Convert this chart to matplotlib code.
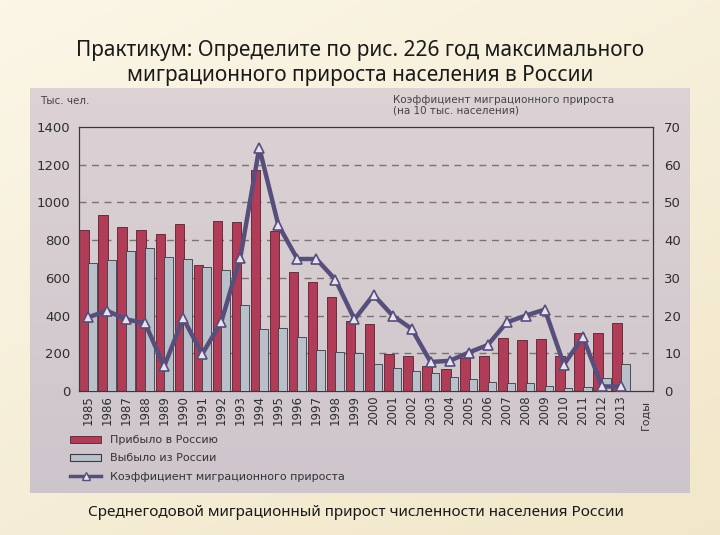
# Слайд: миграция населения России 1985-2013 (столбцы + коэффициент)
import matplotlib.pyplot as plt
import numpy as np
from matplotlib.patches import Rectangle, Patch
from matplotlib.lines import Line2D

years = [str(y) for y in range(1985, 2014)]
# тыс. чел.
arrived = [855, 935, 870, 855, 830, 885, 670, 900, 895, 1170,
           850, 630, 580, 500, 370, 355, 195, 185, 130, 115,
           175, 185, 280, 270, 275, 185, 310, 310, 360]
left = [680, 695, 740, 760, 710, 700, 655, 640, 455, 330,
        335, 285, 220, 205, 200, 145, 120, 105, 95, 75,
        65, 50, 45, 40, 28, 14, 20, 70, 145]
# на 10 тыс. населения
coef = [19.5, 21.3, 19.0, 18.0, 6.5, 19.3, 9.8, 18.3, 35.3, 64.5,
        44.0, 35.0, 35.0, 29.5, 19.0, 25.5, 20.0, 16.5, 7.7, 8.0,
        10.2, 12.2, 18.2, 20.0, 21.6, 7.0, 14.3, 1.2, 1.2]

title = 'Практикум: Определите по рис. 226 год максимального\nмиграционного прироста населения в России'
caption = 'Среднегодовой миграционный прирост численности населения России'

W, H = 720, 535
fig = plt.figure(figsize=(7.2, 5.35), dpi=100)

# фон слайда (лёгкий градиент)
bg = fig.add_axes([0, 0, 1, 1], zorder=-10)
gx = np.linspace(0, 1, 200)
gy = np.linspace(0, 1, 150)
gxx, gyy = np.meshgrid(gx, gy)
t = (gxx * 0.4 + gyy * 0.6)
c1 = np.array([0.985, 0.965, 0.905])
c2 = np.array([0.945, 0.905, 0.790])
img = c1[None, None, :] * (1 - t[..., None]) + c2[None, None, :] * t[..., None]
bg.imshow(img, aspect='auto', extent=[0, 1, 0, 1])
bg.axis('off')

# "фотография" рисунка из учебника (внизу чуть темнее)
ph = fig.add_axes([30 / W, 1 - 493 / H, 660 / W, 405 / H], zorder=-5)
p1 = np.array([0.865, 0.825, 0.835])
p2 = np.array([0.805, 0.775, 0.800])
pt = np.linspace(0, 1, 100)[:, None, None]
ph.imshow(p1 * (1 - pt) + p2 * pt, aspect='auto', extent=[0, 1, 0, 1])
ph.axis('off')

fig.text(0.5, 1 - 63 / H, title, ha='center', va='center', fontsize=15,
         family='Noto Sans', color='#1a1a1a', linespacing=1.25)
fig.text(356 / W, 1 - 513 / H, caption, ha='center', va='center', fontsize=11,
         family='Noto Sans', color='#1a1a1a')

ax = fig.add_axes([79 / W, 1 - 391 / H, 574 / W, 264 / H])
ax.set_facecolor('none')
x = np.arange(len(years))
red = '#b03c58'
grey = '#b9c0c9'
ax.bar(x + 0.02, arrived, width=0.5, align='edge', color=red,
       edgecolor='#5a2030', linewidth=0.6, zorder=2)
ax.bar(x + 0.47, left, width=0.45, align='edge', color=grey,
       edgecolor='#3a3a44', linewidth=0.6, zorder=3)

ax.set_xlim(0, 30.15)
ax.set_ylim(0, 1400)
ax.set_yticks(range(0, 1401, 200))
ax.set_xticks(x + 0.47)
ax.set_xticklabels(years, rotation=90, fontsize=8.5, color='#2e2e2e')
ax.tick_params(axis='x', length=0, pad=3)
ax.tick_params(axis='y', length=0, pad=6, labelsize=9.5, labelcolor='#2e2e2e')
for v in range(200, 1400, 200):
    ax.axhline(v, color='#7a7276', linestyle=(0, (5, 4)), linewidth=1.0, zorder=1)
for s in ax.spines.values():
    s.set_color('#3a3a3a')
    s.set_linewidth(0.9)

ax2 = ax.twinx()
ax2.set_ylim(0, 70)
ax2.set_yticks(range(0, 71, 10))
ax2.tick_params(axis='y', length=0, pad=8, labelsize=9.5, labelcolor='#2e2e2e')
ax2.plot(x + 0.47, coef, color='#574e7c', linewidth=3.2, marker='^',
         markersize=6.5, markerfacecolor='#e6e2ee', markeredgecolor='#574e7c',
         markeredgewidth=1.2, zorder=5)
for s in ax2.spines.values():
    s.set_visible(False)

fig.text(40 / W, 1 - 101 / H, 'Тыс. чел.', ha='left', va='center',
         fontsize=7.5, color='#444444')
fig.text(393 / W, 1 - 105 / H,
         'Коэффициент миграционного прироста\n(на 10 тыс. населения)',
         ha='left', va='center', fontsize=7.5, color='#444444', linespacing=1.1)
fig.text(646 / W, 1 - 400 / H, 'Годы', ha='center', va='top', rotation=90,
         fontsize=8, color='#333333')

handles = [Patch(facecolor=red, edgecolor='#5a2030', linewidth=0.6),
           Patch(facecolor=grey, edgecolor='#3a3a44', linewidth=0.8),
           Line2D([], [], color='#574e7c', linewidth=2.5, marker='^',
                  markersize=6, markerfacecolor='#e6e2ee',
                  markeredgecolor='#574e7c')]
labels = ['Прибыло в Россию', 'Выбыло из России', 'Коэффициент миграционного прироста']
fig.legend(handles, labels, loc='upper left', bbox_to_anchor=(60 / W, 1 - 425 / H),
           frameon=False, fontsize=8, handlelength=2.8, handleheight=0.6,
           labelspacing=0.75, handletextpad=0.8, labelcolor='#333333')

fig.savefig('out.png', dpi=100, facecolor=fig.get_facecolor())
